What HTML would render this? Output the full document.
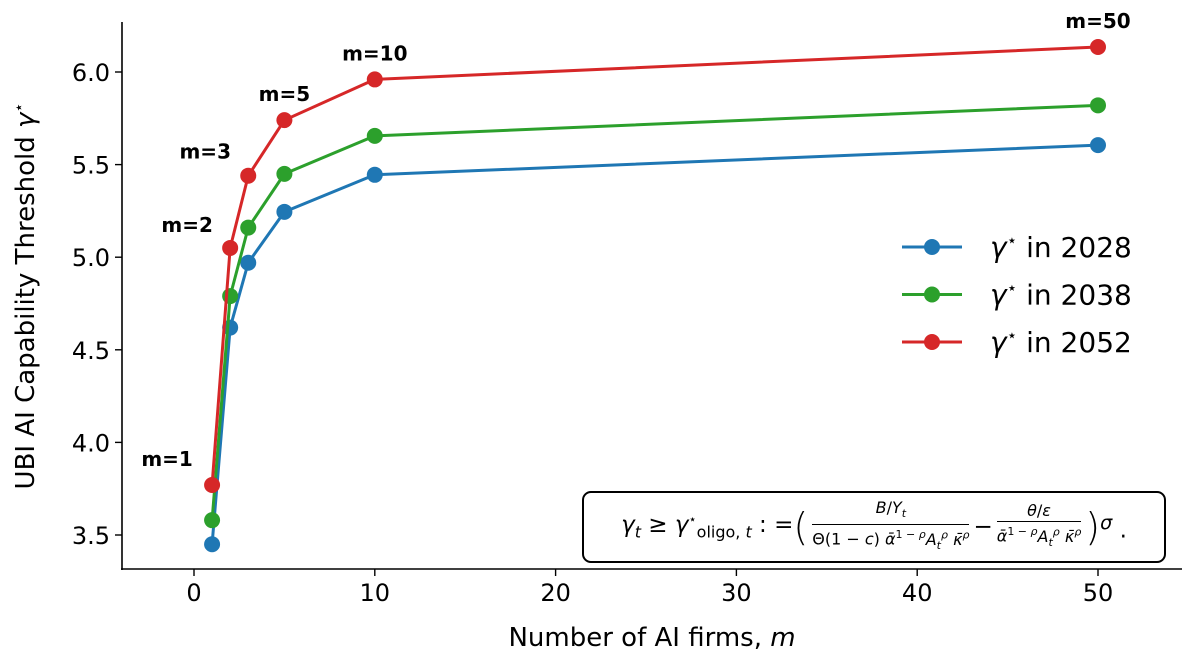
<!DOCTYPE html>
<html><head><meta charset="utf-8"><style>
body{margin:0;background:#fff;width:1182px;height:657px;overflow:hidden;font-family:"DejaVu Sans","Liberation Sans",sans-serif}
#box{position:absolute;left:582px;top:491px;width:584px;height:72px;border:2px solid #000;border-radius:9px;box-sizing:border-box;display:flex;align-items:center;justify-content:center;font-size:23px;white-space:nowrap}
.fr{display:inline-flex;flex-direction:column;align-items:stretch;text-align:center;font-size:16px;vertical-align:middle;margin:0 4px;line-height:20px}
.fr .n{border-bottom:1px solid #000;padding:0 2px}
.fr sup,.fr sub{font-size:11px}
i{font-style:italic}
</style></head><body>
<svg id="chart" width="1182" height="657" style="position:absolute;left:0;top:0" font-family="DejaVu Sans, Liberation Sans, sans-serif"></svg>
<div id="box"><span style="display:inline-flex;align-items:center"><span><i>γ<sub style="font-size:16px">t</sub></i> ≥ <i>γ</i><sup style="font-size:13px">⋆</sup><sub style="font-size:16px">oligo, <i>t</i></sub> : = </span><span style="font-size:38px;font-weight:100">(</span><span class="fr"><span class="n"><i>B</i>/<i>Y<sub>t</sub></i></span><span>Θ(1 − <i>c</i>) <i>ᾱ</i><sup>1 − <i>ρ</i></sup><i>A<sub>t</sub><sup>ρ</sup></i> <i>κ̄<sup>ρ</sup></i></span></span><span> − </span><span class="fr"><span class="n"><i>θ</i>/<i>ε</i></span><span><i>ᾱ</i><sup>1 − <i>ρ</i></sup><i>A<sub>t</sub><sup>ρ</sup></i> <i>κ̄<sup>ρ</sup></i></span></span><span style="font-size:38px;font-weight:100">)</span><span><sup><i>σ</i></sup> .</span></span></div>
<script>
const mValues=[1,2,3,5,10,50];
const y2028=[3.45,4.62,4.97,5.245,5.445,5.605];
const y2038=[3.58,4.79,5.16,5.45,5.655,5.82];
const y2052=[3.77,5.05,5.44,5.74,5.96,6.135];
const xTicks=[0,10,20,30,40,50];
const yTicks=[3.5,4.0,4.5,5.0,5.5,6.0];
const labels=["m=1","m=2","m=3","m=5","m=10","m=50"];
const seriesNames=["2028","2038","2052"];
const colors=["#1f77b4","#2ca02c","#d62728"];
const X=v=>194+v*18.08;
const Y=v=>535-(v-3.5)*185.2;
const svg=document.getElementById('chart');
const NS='http://www.w3.org/2000/svg';
function mk(t,a,p){const e=document.createElementNS(NS,t);for(const k in a)e.setAttribute(k,a[k]);(p||svg).appendChild(e);return e;}
let e;
e=mk('line',{x1:122,y1:22,x2:122,y2:570,stroke:'#000','stroke-width':1.6});

e=mk('line',{x1:121,y1:569,x2:1182,y2:569,stroke:'#000','stroke-width':1.6});

xTicks.forEach(t=>{mk('line',{x1:X(t),x2:X(t),y1:569,y2:576,stroke:'#000','stroke-width':1.4});
e=mk('text',{x:X(t),y:601,'text-anchor':'middle','font-size':24});e.textContent=t;
});
yTicks.forEach(t=>{mk('line',{x1:115,x2:122,y1:Y(t),y2:Y(t),stroke:'#000','stroke-width':1.4});
e=mk('text',{x:110,y:Y(t)+9,'text-anchor':'end','font-size':24});e.textContent=t.toFixed(1);
});
e=mk('text',{x:652,y:646,'text-anchor':'middle','font-size':26});e.innerHTML='Number of AI firms, <tspan font-style="italic">m</tspan>';

e=mk('text',{x:0,y:0,'text-anchor':'middle','font-size':26,transform:'translate(34,296) rotate(-90)'});e.innerHTML='UBI AI Capability Threshold <tspan font-style="italic">γ</tspan><tspan font-size="16" dy="-10">⋆</tspan>';

[y2028,y2038,y2052].forEach((s,i)=>{
 const g=mk('g',{});
 mk('polyline',{points:s.map((v,j)=>X(mValues[j])+','+Y(v)).join(' '),fill:'none',stroke:colors[i],'stroke-width':3},g);
 s.forEach((v,j)=>{const c=mk('circle',{cx:X(mValues[j]),cy:Y(v),r:8,fill:colors[i]},g);
 });
 const ly=247+i*47.5;
 const lg=mk('g',{});
 mk('line',{x1:902,x2:962,y1:ly,y2:ly,stroke:colors[i],'stroke-width':3},lg);
 mk('circle',{cx:932,cy:ly,r:8,fill:colors[i]},lg);
 const t=mk('text',{x:990,y:ly+10,'font-size':28},lg);t.innerHTML='<tspan font-style="italic">γ</tspan><tspan font-size="17" dy="-11">⋆</tspan><tspan dy="11"> in '+seriesNames[i]+'</tspan>';
});
const offs=[[-45,-19],[-43,-16],[-43,-17],[0,-19],[0,-19],[0,-19]];
labels.forEach((l,j)=>{e=mk('text',{x:X(mValues[j])+offs[j][0],y:Y(y2052[j])+offs[j][1],'text-anchor':'middle','font-size':20,'font-weight':'bold'});e.textContent=l;
});
</script>
</body></html>
